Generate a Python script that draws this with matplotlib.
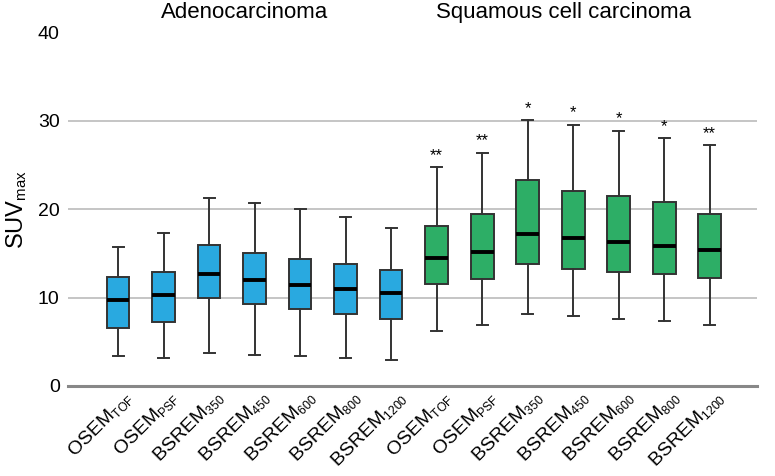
import matplotlib
matplotlib.use("Agg")
import matplotlib.pyplot as plt
from matplotlib.transforms import ScaledTranslation
try:
    import matplotlib._mathtext as _mt
    _mt.SHRINK_FACTOR = 0.63
except Exception:
    pass

plt.rcParams['font.family'] = ['Liberation Sans', 'DejaVu Sans']
plt.rcParams['mathtext.fontset'] = 'custom'
plt.rcParams['mathtext.rm'] = 'Liberation Sans'
plt.rcParams['mathtext.it'] = 'Liberation Sans:italic'
plt.rcParams['mathtext.bf'] = 'Liberation Sans:bold'

labels = [r'OSEM$_{\mathrm{TOF}}$', r'OSEM$_{\mathrm{PSF}}$', r'BSREM$_{\mathrm{350}}$',
          r'BSREM$_{\mathrm{450}}$', r'BSREM$_{\mathrm{600}}$', r'BSREM$_{\mathrm{800}}$',
          r'BSREM$_{\mathrm{1200}}$'] * 2
groups = ['Adenocarcinoma', 'Squamous cell carcinoma']

whislo = [3.35, 3.16, 3.73, 3.54, 3.35, 3.13, 2.94,
          6.25, 6.93, 8.20, 7.91, 7.60, 7.34, 6.93]
q1 = [6.59, 7.27, 9.94, 9.30, 8.74, 8.17, 7.53,
      11.49, 12.13, 13.75, 13.26, 12.92, 12.62, 12.24]
med = [9.72, 10.28, 12.62, 12.00, 11.45, 11.00, 10.55,
       14.54, 15.18, 17.18, 16.76, 16.27, 15.82, 15.40]
q3 = [12.35, 12.88, 15.90, 15.10, 14.35, 13.82, 13.18,
      18.15, 19.50, 23.28, 22.07, 21.47, 20.80, 19.50]
whishi = [15.70, 17.30, 21.30, 20.75, 20.04, 19.17, 17.85,
          24.80, 26.40, 30.10, 29.57, 28.90, 28.06, 27.23]
signif = ['', '', '', '', '', '', '', '**', '**', '*', '*', '*', '*', '**']

colors = ['#29A9E0'] * 7 + ['#2DAE66'] * 7

stats = []
for i in range(14):
    stats.append(dict(whislo=whislo[i], q1=q1[i], med=med[i], q3=q3[i],
                      whishi=whishi[i], fliers=[], label=labels[i]))

fig = plt.figure(figsize=(7.75, 4.76), dpi=100)
ax = fig.add_axes([68/775, 1 - 386/476, (757 - 68)/775, (386 - 32.5)/476])

positions = list(range(1, 15))
bp = ax.bxp(stats, positions=positions, widths=0.5, patch_artist=True,
            showfliers=False, capwidths=0.24,
            boxprops=dict(edgecolor='#333333', linewidth=1.4),
            whiskerprops=dict(color='#333333', linewidth=1.4),
            capprops=dict(color='#333333', linewidth=1.4),
            medianprops=dict(color='black', linewidth=2.8))
for patch, c in zip(bp['boxes'], colors):
    patch.set_facecolor(c)

for p, s, top in zip(positions, signif, whishi):
    if s:
        ax.annotate(s, xy=(p, top), xytext=(0, 3), textcoords='offset points',
                    ha='center', va='bottom', fontsize=12)

ax.set_xlim(-0.1, 15.04)
ax.set_ylim(0, 40)
ax.set_yticks([0, 10, 20, 30, 40])
ax.tick_params(axis='y', length=0, labelsize=14, pad=6)
ax.tick_params(axis='x', length=0, labelsize=14, pad=1)
ax.set_xticks(positions)
ax.set_xticklabels(labels, rotation=45, ha='right', rotation_mode='anchor')
offset = ScaledTranslation(5/100, 0, fig.dpi_scale_trans)
for lbl in ax.get_xticklabels():
    lbl.set_transform(lbl.get_transform() + offset)

for y in [10, 20, 30]:
    ax.axhline(y, color='#BBBBBB', linewidth=1.2, zorder=0)

for sp in ['top', 'right', 'left']:
    ax.spines[sp].set_visible(False)
ax.spines['bottom'].set_color('#888888')
ax.spines['bottom'].set_linewidth(2.2)

ax.set_ylabel(r'SUV$_{\mathrm{max}}$', fontsize=17, labelpad=6)

ytitle = 1 + (32.5 - 12) / (386 - 32.5)
ax.text(3.77, ytitle, groups[0], transform=ax.get_xaxis_transform(),
        ha='center', va='center', fontsize=16)
ax.text(10.78, ytitle, groups[1], transform=ax.get_xaxis_transform(),
        ha='center', va='center', fontsize=16)

fig.savefig('out.png', dpi=100)
